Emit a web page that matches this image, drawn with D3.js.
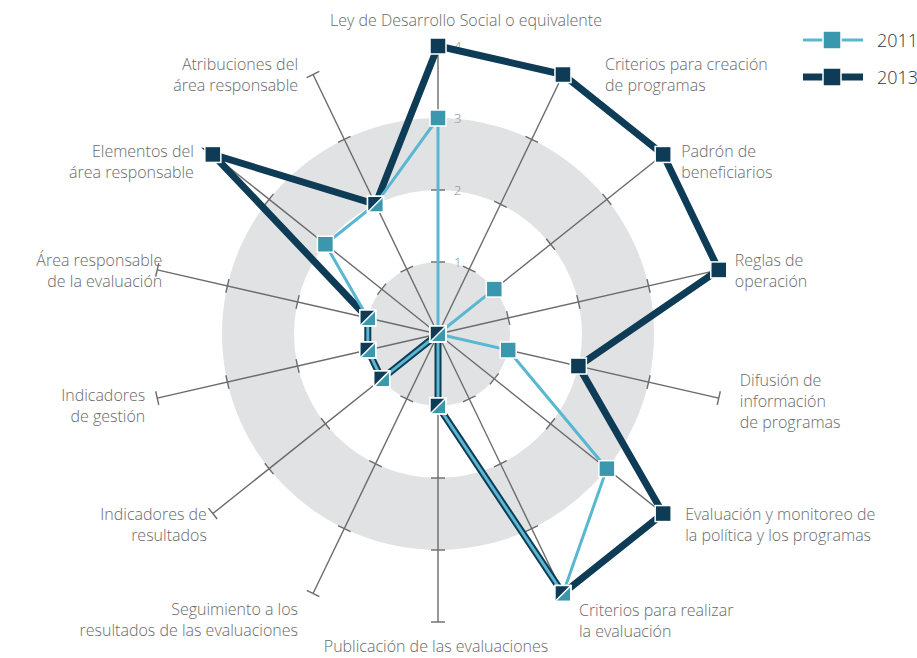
<!DOCTYPE html>
<html>
<head>
<meta charset="utf-8">
<script src="https://cdn.jsdelivr.net/npm/d3@7"></script>
<style>
  html, body { margin: 0; padding: 0; background: #fff; }
  svg text { font-family: "Open Sans", sans-serif; font-weight: 300; fill: #6a6a6a; }
</style>
</head>
<body>
<div id="chart"></div>
<script>
// axis names (clockwise from the top)
const categories = [
  ['Ley de Desarrollo Social o equivalente'],
  ['Criterios para creación', 'de programas'],
  ['Padrón de', 'beneficiarios'],
  ['Reglas de', 'operación'],
  ['Difusión de', 'información', 'de programas'],
  ['Evaluación y monitoreo de', 'la política y los programas'],
  ['Criterios para realizar', 'la evaluación'],
  ['Publicación de las evaluaciones'],
  ['Seguimiento a los', 'resultados  de las evaluaciones'],
  ['Indicadores de', 'resultados'],
  ['Indicadores', 'de gestión'],
  ['Área responsable', 'de la evaluación'],
  ['Elementos del', 'área responsable'],
  ['Atribuciones del', 'área responsable'],
];

const values2011 = [3, 0, 1, 0, 1, 3, 4, 1, 0, 1, 1, 1, 2, 2];
const values2013 = [4, 4, 4, 4, 2, 4, 4, 1, 0, 1, 1, 1, 4, 2];
const seriesNames = ['2011', '2013'];
const tickValues = [1, 2, 3, 4];

// label placement relative to axis end: [anchor, dx, dy]
const labelLayout = [
  ['middle', 28, -25], ['start', 42, 1], ['start', 18, 8], ['start', 16, 2],
  ['start', 21, 4], ['start', 22, 12], ['start', 16, 28], ['middle', -2, 25],
  ['end', -15, 27], ['end', -6, 12], ['end', -12, 8], ['end', 5, 2],
  ['end', -19, 8], ['end', -15, 1],
];

const width = 917;
const height = 658;
const cx = 438;
const cy = 334;

const colors = {
  lightLine: '#5ab7d1', lightMark: '#3b97ae',
  dark: '#0e3c56', axis: '#6b6b6b', band: '#e1e2e3',
};

const svg = d3.select('#chart')
  .append('svg')
  .attr('width', width)
  .attr('height', height);

const g = svg.append('g')
  .attr('transform', `translate(${cx}, ${cy})`);

const r = d3.scaleLinear()
  .domain([0, 4])
  .range([0, 288]);

const angle = d3.scalePoint()
  .domain(d3.range(categories.length))
  .range([0, 2 * Math.PI * (categories.length - 1) / categories.length]);

const px = (i, v) => r(v) * Math.sin(angle(i));
const py = (i, v) => -r(v) * Math.cos(angle(i));

// grey bands: 0-1 and 2-3
g.append('circle').attr('r', r(3)).attr('fill', colors.band);
g.append('circle').attr('r', r(2)).attr('fill', '#fff');
g.append('circle').attr('r', r(1)).attr('fill', colors.band);

// axes with tick caps
const axes = g.selectAll('.axis')
  .data(categories)
  .enter()
  .append('g')
  .attr('class', 'axis');

axes.append('line')
  .attr('x1', 0).attr('y1', 0)
  .attr('x2', (d, i) => px(i, 4))
  .attr('y2', (d, i) => py(i, 4))
  .attr('stroke', colors.axis)
  .attr('stroke-width', 1.4);

axes.each(function (d, i) {
  const a = angle(i);
  d3.select(this).selectAll('.cap')
    .data(tickValues)
    .enter()
    .append('line')
    .attr('x1', t => px(i, t) - 7 * Math.cos(a))
    .attr('y1', t => py(i, t) - 7 * Math.sin(a))
    .attr('x2', t => px(i, t) + 7 * Math.cos(a))
    .attr('y2', t => py(i, t) + 7 * Math.sin(a))
    .attr('stroke', colors.axis)
    .attr('stroke-width', 1.4);
});

// tick numbers beside the top axis
g.selectAll('.tick-label')
  .data(tickValues)
  .enter()
  .append('text')
  .attr('x', 16)
  .attr('y', t => -r(t) + 5)
  .attr('font-size', 13)
  .style('fill', '#8a8a8a')
  .text(t => t);

// axis labels
categories.forEach((lines, i) => {
  const [anchor, dx, dy] = labelLayout[i];
  const x = px(i, 4) + dx;
  const y = py(i, 4) + dy - (lines.length - 1) * 10.5;
  const t = g.append('text')
    .attr('text-anchor', anchor)
    .attr('font-size', 16)
    .attr('x', x)
    .attr('y', y + 5);
  lines.forEach((s, k) => {
    t.append('tspan').attr('x', x).attr('dy', k === 0 ? 0 : 21).text(s);
  });
});

// series lines
const radial = d3.lineRadial()
  .angle((d, i) => angle(i))
  .radius(d => r(d))
  .curve(d3.curveLinearClosed);

g.append('path')
  .attr('d', radial(values2013))
  .attr('fill', 'none')
  .attr('stroke', colors.dark)
  .attr('stroke-width', 7)
  .attr('stroke-linejoin', 'miter');

g.append('path')
  .attr('d', radial(values2011))
  .attr('fill', 'none')
  .attr('stroke', colors.lightLine)
  .attr('stroke-width', 3);

// markers
const s = 8;
const markers = g.append('g');

function square(sel, x, y, fill) {
  sel.append('rect')
    .attr('x', x - s).attr('y', y - s)
    .attr('width', 2 * s).attr('height', 2 * s)
    .attr('fill', fill)
    .attr('stroke', '#fff')
    .attr('stroke-width', 1.5);
}

values2011.forEach((v, i) => {
  if (v !== values2013[i]) square(markers, px(i, v), py(i, v), colors.lightMark);
});
values2013.forEach((v, i) => {
  if (v !== values2011[i]) square(markers, px(i, v), py(i, v), colors.dark);
});
values2013.forEach((v, i) => {
  if (v !== values2011[i]) return;
  const x = px(i, v);
  const y = py(i, v);
  square(markers, x, y, colors.lightMark);
  markers.append('path')
    .attr('d', `M${x - s},${y - s}L${x + s},${y - s}L${x - s},${y + s}Z`)
    .attr('fill', colors.dark);
  markers.append('line')
    .attr('x1', x + s).attr('y1', y - s)
    .attr('x2', x - s).attr('y2', y + s)
    .attr('stroke', '#fff')
    .attr('stroke-width', 1.5);
  markers.append('rect')
    .attr('x', x - s).attr('y', y - s)
    .attr('width', 2 * s).attr('height', 2 * s)
    .attr('fill', 'none')
    .attr('stroke', '#fff')
    .attr('stroke-width', 1.5);
});

// legend
const legend = svg.append('g')
  .attr('transform', 'translate(803, 40)');

const items = legend.selectAll('g')
  .data(seriesNames)
  .enter()
  .append('g')
  .attr('transform', (d, i) => `translate(0, ${i * 37})`);

items.append('line')
  .attr('x1', 0).attr('x2', 60)
  .attr('stroke', (d, i) => i === 0 ? colors.lightLine : colors.dark)
  .attr('stroke-width', (d, i) => i === 0 ? 3 : 7);

items.append('rect')
  .attr('x', 20).attr('y', -9)
  .attr('width', 18).attr('height', 18)
  .attr('fill', (d, i) => i === 0 ? colors.lightMark : colors.dark)
  .attr('stroke', '#fff')
  .attr('stroke-width', 1.5);

items.append('text')
  .attr('x', 74)
  .attr('y', 7)
  .attr('font-size', 18)
  .style('fill', '#333')
  .text(d => d);
</script>
</body>
</html>
